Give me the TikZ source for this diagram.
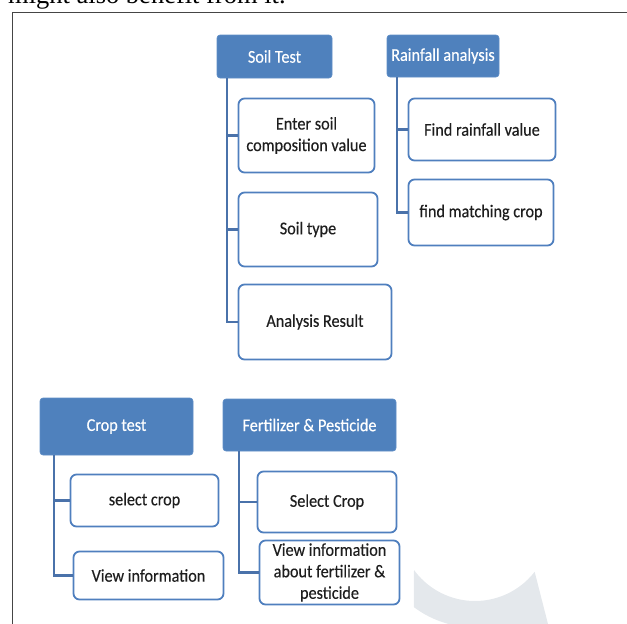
\documentclass[tikz,border=0pt]{standalone}
\usepackage{fontspec}
\setmainfont{Carlito}[FakeStretch=0.9, FakeBold=0.3]
\newfontfamily\topserif{Liberation Serif}
\definecolor{hdr}{HTML}{4F81BD}
\definecolor{hdrborder}{HTML}{5E8DC6}
\definecolor{itemborder}{HTML}{4F7FBE}
\definecolor{linkc}{HTML}{4A72AA}
\definecolor{framec}{HTML}{454545}
\definecolor{wmark}{HTML}{E4E8EC}
\definecolor{txt}{HTML}{1E1E1E}
\newcommand{\fsz}{\fontsize{18}{21.5}\selectfont}
\begin{document}
\begin{tikzpicture}[x=1pt,y=-1pt,
  head/.style={draw=hdrborder, line width=0.6pt, fill=hdr, rounded corners=3pt,
    text=white, inner sep=0pt, font=\fsz},
  item/.style={draw=itemborder, line width=1.8pt, fill=white, rounded corners=6pt,
    inner sep=0pt, align=center, font=\fsz, text=txt},
  link/.style={draw=linkc, line width=2.4pt}]
\useasboundingbox (0,0) rectangle (627,624);
\clip (0,0) rectangle (627,624);

% faint watermark
\fill[wmark] plot[domain=143.9:37.8, samples=40] ({475+75.5*cos(\x)},{525.5+75.5*sin(\x)})
  -- (548,624) -- (448.5,624)
  -- plot[domain=105:126.8, samples=10] ({475+102*cos(\x)},{525.5+102*sin(\x)})
  -- cycle;

% frame
\draw[framec, line width=1pt] (12,624) -- (12,12) -- (627,12);

% clipped line of text above the frame
\node[anchor=base west, inner sep=0pt, font=\topserif\fontsize{26.5}{30}\selectfont, text=black]
  (toptext) at (8,3) {might also benefit from it.};

% headers
\node[head, minimum width=115, minimum height=43] (soil) at (274.5,56.5) {Soil Test};
\node[head, minimum width=112, minimum height=42] (rain) at (443,56) {Rainfall analysis};
\node[head, minimum width=153, minimum height=57] (crop) at (116.5,426.5) {Crop test};
\node[head, minimum width=173, minimum height=52] (fert) at (309.5,425) {Fertilizer \& Pesticide};

% items
\node[item, minimum width=136, minimum height=74] (enter) at (306.5,135.5) {Enter soil\\composition value};
\node[item, minimum width=139, minimum height=74] (stype) at (308,229.5) {Soil type};
\node[item, minimum width=153, minimum height=75] (result) at (315,322) {Analysis Result};
\node[item, minimum width=147, minimum height=62] (frain) at (482,129.5) {Find rainfall value};
\node[item, minimum width=145, minimum height=66] (fcrop) at (481,212.5) {find matching crop};
\node[item, minimum width=148, minimum height=52] (scrop) at (144.5,500.5) {select crop};
\node[item, minimum width=150, minimum height=48] (vinfo) at (148.5,575.5) {View information};
\node[item, minimum width=139, minimum height=61] (scrop2) at (327,502) {Select Crop};
\node[item, minimum width=140, minimum height=64] (vinfo2) at (329.5,572.5) {View information\\about fertilizer \&\\pesticide};

% trunk start points
\coordinate (ts) at ([xshift=10.5pt]soil.south west);
\coordinate (tr) at ([xshift=10pt]rain.south west);
\coordinate (tc) at ([xshift=14pt]crop.south west);
\coordinate (tf) at ([xshift=16.5pt]fert.south west);

% connectors
\draw[link] (ts) |- (enter.west);
\draw[link] (ts) |- (stype.west);
\draw[link] (ts) |- (result.west);
\draw[link] (tr) |- (frain.west);
\draw[link] (tr) |- (fcrop.west);
\draw[link] (tc) |- (scrop.west);
\draw[link] (tc) |- (vinfo.west);
\draw[link] (tf) |- (scrop2.west);
\draw[link] (tf) |- (vinfo2.west);
\end{tikzpicture}
\end{document}
